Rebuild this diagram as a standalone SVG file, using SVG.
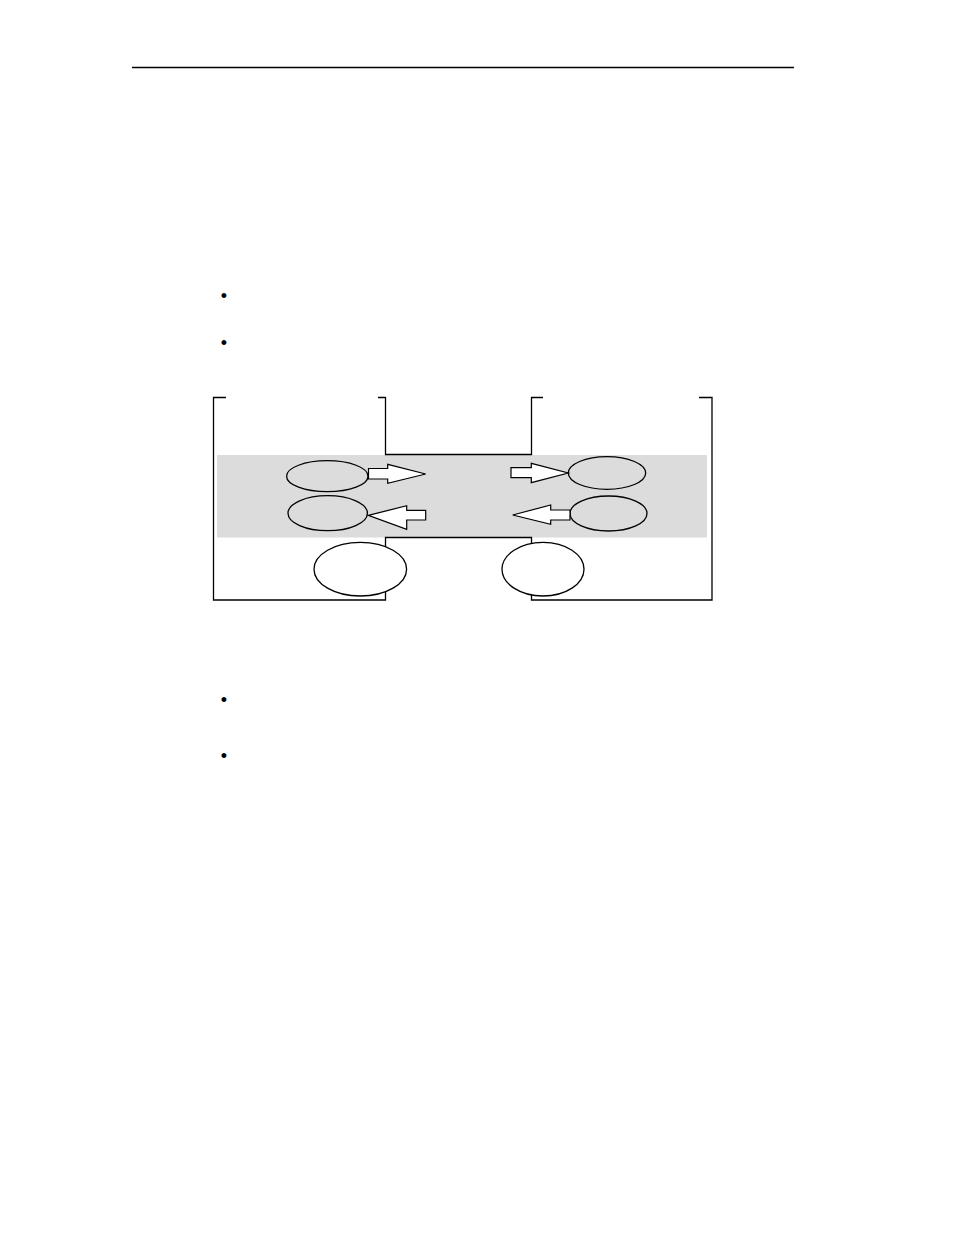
<svg xmlns="http://www.w3.org/2000/svg" width="954" height="1235" viewBox="0 0 954 1235">
<style>
.ln{fill:none;stroke:#000;stroke-width:1.3}
.el{stroke:#000;stroke-width:1.3}
.g{fill:#dcdcdc}
.w{fill:#fff}
.ar{fill:#fff;stroke:#000;stroke-width:1.2;stroke-linejoin:miter}
.b{font-family:"Liberation Sans",Arial,sans-serif;font-size:18px;fill:#000}
</style>
<rect width="954" height="1235" fill="#fff"/>
<line id="header-rule" class="ln" x1="132" y1="67.5" x2="794" y2="67.5"/>
<g id="bullets">
<text class="b" x="224" y="302" text-anchor="middle">•</text>
<text class="b" x="224" y="349" text-anchor="middle">•</text>
<text class="b" x="224" y="705.5" text-anchor="middle">•</text>
<text class="b" x="224" y="761.5" text-anchor="middle">•</text>
</g>
<g id="band">
<rect class="g" x="217" y="455" width="490" height="82.5"/>
</g>
<g id="frame">
<path class="ln" d="M226,397.5 H213.5 V600 H385.5 V537.5 H531.5 V600 H712 V397.5 H699"/>
<path class="ln" d="M378,397.5 H385.5 V454.5 H531.5 V397.5 H543"/>
</g>
<g id="node-l1"><ellipse class="el g" cx="327.3" cy="476.2" rx="40.7" ry="15.5"/></g>
<g id="node-l2"><ellipse class="el g" cx="327.7" cy="513.2" rx="39.7" ry="17.5"/></g>
<g id="node-r1"><ellipse class="el g" cx="607" cy="473" rx="38.7" ry="16.3"/></g>
<g id="node-r2"><ellipse class="el g" cx="608.5" cy="513.5" rx="38.5" ry="17.5"/></g>
<g id="node-b1"><ellipse class="el w" cx="360.3" cy="569.2" rx="46.3" ry="26.8"/></g>
<g id="node-b2"><ellipse class="el w" cx="543" cy="569.2" rx="41" ry="26.8"/></g>
<g id="connectors">
<polygon class="ar" points="368.5,468.5 387.7,468.5 387.7,464.3 425.7,474 387.7,483.3 387.7,479 368.5,479"/>
<polygon class="ar" points="425.7,510.3 406.7,510.3 406.7,505.7 368.3,515.3 406.7,529.3 406.7,520 425.7,520"/>
<polygon class="ar" points="511,467.7 531.3,467.7 531.3,463.3 568.3,473 531.3,482.7 531.3,477.7 511,477.7"/>
<polygon class="ar" points="570,510 550.7,510 550.7,505 512.7,515 550.7,524.3 550.7,520 570,520"/>
</g>
</svg>
